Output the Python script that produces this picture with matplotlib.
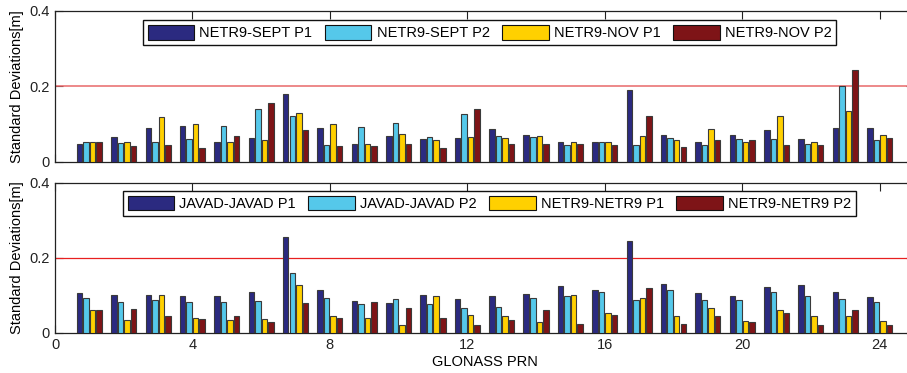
import numpy as np
import matplotlib
matplotlib.use("Agg")
import matplotlib.pyplot as plt

plt.rcParams["font.family"] = ["Liberation Sans", "DejaVu Sans"]
plt.rcParams["font.size"] = 10.5

prn = np.arange(1, 25)

# Standard deviations [m], receiver pairs, per GLONASS PRN
sept_p1 = [0.048, 0.066, 0.091, 0.096, 0.052, 0.064, 0.180, 0.091, 0.048, 0.069, 0.060, 0.064,
           0.087, 0.072, 0.052, 0.054, 0.191, 0.072, 0.054, 0.072, 0.084, 0.060, 0.091, 0.091]
sept_p2 = [0.052, 0.051, 0.054, 0.060, 0.096, 0.141, 0.122, 0.045, 0.094, 0.104, 0.066, 0.126,
           0.069, 0.066, 0.044, 0.054, 0.044, 0.063, 0.044, 0.060, 0.060, 0.048, 0.200, 0.057]
nov_p1 = [0.054, 0.054, 0.120, 0.101, 0.054, 0.057, 0.131, 0.101, 0.048, 0.075, 0.057, 0.066,
          0.063, 0.069, 0.054, 0.052, 0.069, 0.057, 0.087, 0.054, 0.122, 0.054, 0.135, 0.072]
nov_p2 = [0.052, 0.042, 0.045, 0.037, 0.069, 0.156, 0.084, 0.043, 0.043, 0.048, 0.037, 0.141,
          0.048, 0.048, 0.048, 0.045, 0.122, 0.039, 0.057, 0.057, 0.045, 0.045, 0.243, 0.064]

javad_p1 = [0.107, 0.100, 0.100, 0.097, 0.097, 0.109, 0.255, 0.115, 0.084, 0.079, 0.100, 0.090,
            0.097, 0.103, 0.124, 0.115, 0.245, 0.131, 0.107, 0.097, 0.122, 0.128, 0.109, 0.094]
javad_p2 = [0.093, 0.082, 0.088, 0.082, 0.082, 0.084, 0.160, 0.093, 0.075, 0.090, 0.075, 0.066,
            0.069, 0.093, 0.097, 0.109, 0.088, 0.115, 0.088, 0.088, 0.109, 0.097, 0.090, 0.082]
netr_p1 = [0.060, 0.033, 0.100, 0.039, 0.033, 0.036, 0.128, 0.045, 0.039, 0.020, 0.097, 0.048,
           0.045, 0.027, 0.100, 0.051, 0.093, 0.045, 0.066, 0.030, 0.060, 0.045, 0.043, 0.030]
netr_p2 = [0.060, 0.064, 0.045, 0.036, 0.045, 0.027, 0.079, 0.039, 0.082, 0.066, 0.039, 0.020,
           0.033, 0.060, 0.024, 0.048, 0.118, 0.024, 0.043, 0.027, 0.051, 0.020, 0.060, 0.020]

top_series = [sept_p1, sept_p2, nov_p1, nov_p2]
top_labels = ["NETR9-SEPT P1", "NETR9-SEPT P2", "NETR9-NOV P1", "NETR9-NOV P2"]
bot_series = [javad_p1, javad_p2, netr_p1, netr_p2]
bot_labels = ["JAVAD-JAVAD P1", "JAVAD-JAVAD P2", "NETR9-NETR9 P1", "NETR9-NETR9 P2"]

colors = ["#2b2a80", "#55c8ea", "#ffd000", "#7e1417"]
threshold = 0.2

W, H = 907, 373
fig = plt.figure(figsize=(W / 100, H / 100), dpi=100)


def frac(left, top, right, bottom):
    return [left / W, (H - bottom) / H, (right - left) / W, (bottom - top) / H]


ax_top = fig.add_axes(frac(55, 11, 914, 162))
ax_bot = fig.add_axes(frac(55, 183, 914, 332.5))

step, width = 0.19, 0.16
offsets = (np.arange(4) - 1.5) * step


def draw(ax, series, labels, line_color, line_w):
    handles = []
    for k, vals in enumerate(series):
        h = ax.bar(prn + offsets[k], vals, width=width, color=colors[k],
                   edgecolor="#3a3a3a", linewidth=0.8, label=labels[k], zorder=3)
        handles.append(h)
    ax.axhline(threshold, color=line_color, linewidth=line_w, zorder=2)
    ax.set_xlim(0, 25)
    ax.set_ylim(0, 0.4)
    ax.set_xticks(np.arange(0, 25, 4))
    ax.set_yticks([0, 0.2, 0.4])
    ax.set_yticklabels(["0", "0.2", "0.4"])
    ax.tick_params(direction="in", length=5.8, width=0.8, top=True, right=True,
                   labelsize=10.5, colors="#222222", pad=4)
    for s in ax.spines.values():
        s.set_linewidth(0.9)
        s.set_color("#222222")
    ax.set_ylabel("Standard Deviations[m]", fontsize=10.5, labelpad=4)
    return handles


h_top = draw(ax_top, top_series, top_labels, "#e8686a", 1.1)
ax_top.tick_params(labelbottom=False)
h_bot = draw(ax_bot, bot_series, bot_labels, "#e82020", 0.9)
ax_bot.set_xlabel("GLONASS PRN", fontsize=10.5, labelpad=2)

leg_kw = dict(loc="upper center", ncol=4, fontsize=10.5, frameon=True, fancybox=False,
              edgecolor="#111111", framealpha=1, handlelength=3.2, handleheight=1.15,
              handletextpad=0.35, columnspacing=0.85, borderpad=0.35, borderaxespad=0)
leg1 = fig.legend(handles=h_top, labels=top_labels,
                  bbox_to_anchor=(489.5 / W, (H - 20) / H), **leg_kw)
leg2 = fig.legend(handles=h_bot, labels=bot_labels,
                  bbox_to_anchor=(489.5 / W, (H - 190.7) / H), **leg_kw)
for leg in (leg1, leg2):
    leg.get_frame().set_linewidth(1.0)
    for patch in leg.get_patches():
        patch.set_edgecolor("#111111")
        patch.set_linewidth(0.8)

fig.savefig("out.png", dpi=100)
